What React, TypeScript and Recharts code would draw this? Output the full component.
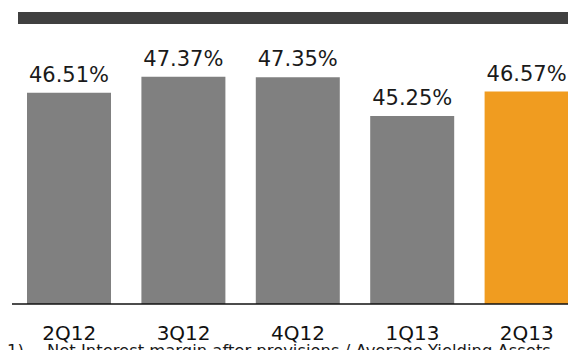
import { BarChart, Bar, XAxis, YAxis, Cell, LabelList } from "recharts"

// quarters and margin values (%)
const quarters = ["2Q12", "3Q12", "4Q12", "1Q13", "2Q13"]
const margins = [46.51, 47.37, 47.35, 45.25, 46.57]
const highlightIndex = 4

const footnoteNum = "1)"
const footnoteText = "Net Interest margin after provisions / Average Yielding Assets"

const data = quarters.map((q, i) => ({ quarter: q, value: margins[i] }))

const font = "'DejaVu Sans', Verdana, sans-serif"

export default function App() {
    return (
        <div style={{ position: "relative", width: 576, height: 358, margin: -8, overflow: "hidden", background: "#fff" }}>
            {/* dark title strip */}
            <div style={{ position: "absolute", left: 18, top: 12, width: 558, height: 12, background: "#404040" }} />

            <div style={{ position: "absolute", left: 0, top: 0 }}>
                <BarChart
                    width={600}
                    height={358}
                    data={data}
                    margin={{ top: 54, right: 16, bottom: 0, left: 12 }}
                >
                    <YAxis hide domain={[35.1, 48.6]} allowDataOverflow />
                    <XAxis
                        dataKey="quarter"
                        height={54}
                        tickLine={false}
                        tickSize={0}
                        tickMargin={22}
                        axisLine={{ stroke: "#111", strokeWidth: 1.3 }}
                        tick={{ fontSize: 20, fill: "#111", fontFamily: font }}
                        interval={0}
                    />
                    <Bar dataKey="value" barSize={84} isAnimationActive={false}>
                        {data.map((d, i) => (
                            <Cell key={d.quarter} fill={i === highlightIndex ? "#F09C20" : "#808080"} />
                        ))}
                        <LabelList
                            dataKey="value"
                            position="top"
                            offset={11}
                            formatter={(v: any) => `${Number(v).toFixed(2)}%`}
                            style={{ fontSize: 21, fill: "#1a1a1a", fontFamily: font }}
                        />
                    </Bar>
                </BarChart>
            </div>

            {/* footnote */}
            <svg width={576} height={358} style={{ position: "absolute", left: 0, top: 0, pointerEvents: "none" }}>
                <text x={7} y={356} fontSize={16.4} fontFamily={font} fill="#1a1a1a">{footnoteNum}</text>
                <text x={47} y={356} fontSize={16.4} fontFamily={font} fill="#1a1a1a">{footnoteText}</text>
            </svg>
        </div>
    )
}
